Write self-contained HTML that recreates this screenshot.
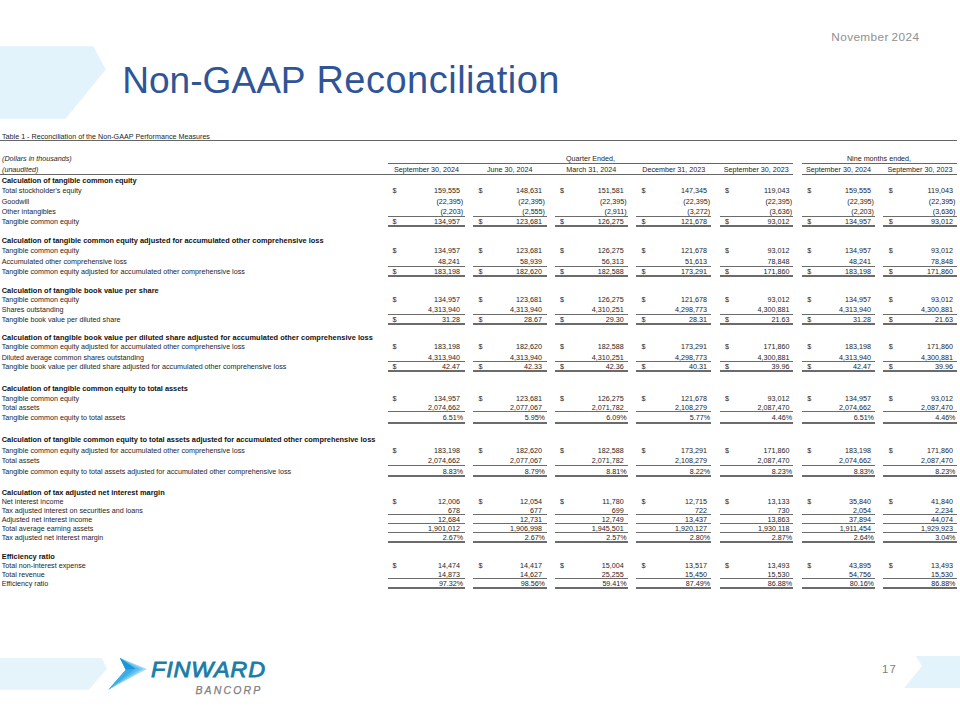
<!DOCTYPE html>
<html lang="en"><head><meta charset="utf-8"><title>Non-GAAP Reconciliation</title>
<style>
html,body{margin:0;padding:0;background:#fff;}
body{width:960px;height:720px;position:relative;overflow:hidden;font-family:"Liberation Sans",sans-serif;}
.t{position:absolute;white-space:nowrap;font-size:7.18px;line-height:10px;height:10px;color:#1e1e1e;}
.b{font-weight:bold;font-size:7.41px;color:#111;}
.i{font-style:italic;}
.c{transform:translateX(-50%);}
.ln{position:absolute;}
#title{position:absolute;left:0;top:0;width:960px;height:0;margin:0;font-weight:normal;color:#2f5597;white-space:nowrap;}
#title span{position:absolute;line-height:44px;}
#t1{left:122.2px;top:58px;font-size:37.1px;}
#t2{left:316.4px;top:58px;font-size:38px;letter-spacing:0.5px;}
#date{position:absolute;left:831.3px;top:29px;font-size:11.8px;line-height:16px;color:#8f8f8f;white-space:nowrap;letter-spacing:0.38px;word-spacing:-0.8px;}
#pg{position:absolute;left:882px;top:661px;font-size:11.3px;line-height:16px;color:#7c7c7c;white-space:nowrap;letter-spacing:1.2px;}
#fin{position:absolute;left:150.6px;top:657.3px;font-size:21.8px;line-height:26px;font-style:italic;color:#1a7ca8;-webkit-text-stroke:0.8px #1a7ca8;white-space:nowrap;letter-spacing:0.8px;transform-origin:0 50%;transform:scaleX(1.075);}
#banc{position:absolute;left:195.4px;top:682.6px;font-size:10.5px;line-height:14px;font-style:italic;color:#7e7e7e;-webkit-text-stroke:0.25px #7e7e7e;white-space:nowrap;letter-spacing:2.15px;}
svg{position:absolute;left:0;top:0;}
</style></head><body>

<svg width="960" height="720" viewBox="0 0 960 720">
<polygon points="0,46.2 93.3,46.2 105.8,69.5 65.5,118.8 0,118.8" fill="#e2f3fc"/>
<polygon points="0,657.9 101.6,657.9 107,668.7 88.7,689.7 0,689.7" fill="#e5f4fb"/>
<polygon points="915.9,656 960,656 960,688 904.2,688 922,666.1" fill="#e3f3fb"/>
<polygon points="120,658.1 146.9,669.1 108.4,689.7 125.8,669.7" fill="#a4dbf6"/>
<polygon points="120,658.1 143.5,669 108.4,689.7 125.8,669.7" fill="#7ccbf2"/>
<polygon points="120,658.1 140,668.9 108.4,689.7 125.8,669.7" fill="#5bbcee"/>
<polygon points="120,658.1 135.5,668.8 108.4,689.7 125.8,669.7" fill="#3dade7"/>
<polygon points="120,658.1 135.5,668.8 125.8,669.7" fill="#1b97d6"/>
</svg>

<h1 id="title"><span id="t1">Non-GAAP </span><span id="t2">Reconciliation</span></h1>
<div id="date">November 2024</div>
<div id="pg">17</div>
<div id="fin">FINWARD</div>
<div id="banc">BANCORP</div>
<div class="t " style="left:2.00px;top:131.75px;">Table 1 - Reconciliation of the Non-GAAP Performance Measures</div>
<div class="ln" style="left:0.00px;width:957.00px;top:140.20px;height:1.1px;background:#666"></div>
<div class="t i" style="left:2.00px;top:153.75px;">(Dollars in thousands)</div>
<div class="t i" style="left:2.00px;top:165.00px;">(unaudited)</div>
<div class="t c" style="left:590.50px;top:153.50px;">Quarter Ended,</div>
<div class="t c" style="left:879.00px;top:153.50px;">Nine months ended,</div>
<div class="ln" style="left:388.00px;width:405.00px;top:162.65px;height:1.1px;background:#666"></div>
<div class="ln" style="left:801.75px;width:154.75px;top:162.65px;height:1.1px;background:#666"></div>
<div class="ln" style="left:0.00px;width:793.00px;top:173.95px;height:1.1px;background:#666"></div>
<div class="ln" style="left:801.75px;width:154.75px;top:173.95px;height:1.1px;background:#666"></div>
<div class="t c" style="left:426.50px;top:164.50px;">September 30, 2024</div>
<div class="t c" style="left:509.75px;top:164.50px;">June 30, 2024</div>
<div class="t c" style="left:591.25px;top:164.50px;">March 31, 2024</div>
<div class="t c" style="left:673.75px;top:164.50px;">December 31, 2023</div>
<div class="t c" style="left:756.25px;top:164.50px;">September 30, 2023</div>
<div class="t c" style="left:838.38px;top:164.50px;">September 30, 2024</div>
<div class="t c" style="left:919.88px;top:164.50px;">September 30, 2023</div>
<div class="t b" style="left:1.70px;top:175.50px;letter-spacing:-0.0338px;">Calculation of tangible common equity</div>
<div class="t " style="left:1.70px;top:186.25px;">Total stockholder's equity</div>
<div class="t " style="left:392.60px;top:186.25px;">$</div>
<div class="t " style="right:500.00px;top:186.25px;">159,555</div>
<div class="t " style="left:478.60px;top:186.25px;">$</div>
<div class="t " style="right:418.10px;top:186.25px;">148,631</div>
<div class="t " style="left:559.90px;top:186.25px;">$</div>
<div class="t " style="right:336.30px;top:186.25px;">151,581</div>
<div class="t " style="left:641.45px;top:186.25px;">$</div>
<div class="t " style="right:253.05px;top:186.25px;">147,345</div>
<div class="t " style="left:725.10px;top:186.25px;">$</div>
<div class="t " style="right:170.60px;top:186.25px;">119,043</div>
<div class="t " style="left:807.15px;top:186.25px;">$</div>
<div class="t " style="right:89.00px;top:186.25px;">159,555</div>
<div class="t " style="left:888.65px;top:186.25px;">$</div>
<div class="t " style="right:7.10px;top:186.25px;">119,043</div>
<div class="t " style="left:1.70px;top:196.75px;">Goodwill</div>
<div class="t " style="right:496.80px;top:196.75px;">(22,395)</div>
<div class="t " style="right:415.00px;top:196.75px;">(22,395)</div>
<div class="t " style="right:333.30px;top:196.75px;">(22,395)</div>
<div class="t " style="right:249.95px;top:196.75px;">(22,395)</div>
<div class="t " style="right:167.90px;top:196.75px;">(22,395)</div>
<div class="t " style="right:86.00px;top:196.75px;">(22,395)</div>
<div class="t " style="right:4.50px;top:196.75px;">(22,395)</div>
<div class="t " style="left:1.70px;top:207.25px;">Other intangibles</div>
<div class="t " style="right:496.80px;top:207.25px;">(2,203)</div>
<div class="t " style="right:415.00px;top:207.25px;">(2,555)</div>
<div class="t " style="right:333.30px;top:207.25px;">(2,911)</div>
<div class="t " style="right:249.95px;top:207.25px;">(3,272)</div>
<div class="t " style="right:167.90px;top:207.25px;">(3,636)</div>
<div class="t " style="right:86.00px;top:207.25px;">(2,203)</div>
<div class="t " style="right:4.50px;top:207.25px;">(3,636)</div>
<div class="t " style="left:1.70px;top:217.30px;">Tangible common equity</div>
<div class="t " style="left:392.60px;top:217.30px;">$</div>
<div class="t " style="right:500.00px;top:217.30px;">134,957</div>
<div class="ln" style="left:388.00px;width:77.00px;top:216.00px;height:1.0px;background:#6c6c6c"></div>
<div class="ln" style="left:388.00px;width:77.00px;top:225px;height:2px;background:#6b6b6b"></div>
<div class="t " style="left:478.60px;top:217.30px;">$</div>
<div class="t " style="right:418.10px;top:217.30px;">123,681</div>
<div class="ln" style="left:473.00px;width:73.50px;top:216.00px;height:1.0px;background:#6c6c6c"></div>
<div class="ln" style="left:473.00px;width:73.50px;top:225px;height:2px;background:#6b6b6b"></div>
<div class="t " style="left:559.90px;top:217.30px;">$</div>
<div class="t " style="right:336.30px;top:217.30px;">126,275</div>
<div class="ln" style="left:554.50px;width:73.50px;top:216.00px;height:1.0px;background:#6c6c6c"></div>
<div class="ln" style="left:554.50px;width:73.50px;top:225px;height:2px;background:#6b6b6b"></div>
<div class="t " style="left:641.45px;top:217.30px;">$</div>
<div class="t " style="right:253.05px;top:217.30px;">121,678</div>
<div class="ln" style="left:636.25px;width:75.00px;top:216.00px;height:1.0px;background:#6c6c6c"></div>
<div class="ln" style="left:636.25px;width:75.00px;top:225px;height:2px;background:#6b6b6b"></div>
<div class="t " style="left:725.10px;top:217.30px;">$</div>
<div class="t " style="right:170.60px;top:217.30px;">93,012</div>
<div class="ln" style="left:719.50px;width:73.50px;top:216.00px;height:1.0px;background:#6c6c6c"></div>
<div class="ln" style="left:719.50px;width:73.50px;top:225px;height:2px;background:#6b6b6b"></div>
<div class="t " style="left:807.15px;top:217.30px;">$</div>
<div class="t " style="right:89.00px;top:217.30px;">134,957</div>
<div class="ln" style="left:801.75px;width:73.25px;top:216.00px;height:1.0px;background:#6c6c6c"></div>
<div class="ln" style="left:801.75px;width:73.25px;top:225px;height:2px;background:#6b6b6b"></div>
<div class="t " style="left:888.65px;top:217.30px;">$</div>
<div class="t " style="right:7.10px;top:217.30px;">93,012</div>
<div class="ln" style="left:883.25px;width:73.25px;top:216.00px;height:1.0px;background:#6c6c6c"></div>
<div class="ln" style="left:883.25px;width:73.25px;top:225px;height:2px;background:#6b6b6b"></div>
<div class="t b" style="left:1.70px;top:236.25px;">Calculation of tangible common equity adjusted for accumulated other comprehensive loss</div>
<div class="t " style="left:1.70px;top:246.25px;">Tangible common equity</div>
<div class="t " style="left:392.60px;top:246.25px;">$</div>
<div class="t " style="right:500.00px;top:246.25px;">134,957</div>
<div class="t " style="left:478.60px;top:246.25px;">$</div>
<div class="t " style="right:418.10px;top:246.25px;">123,681</div>
<div class="t " style="left:559.90px;top:246.25px;">$</div>
<div class="t " style="right:336.30px;top:246.25px;">126,275</div>
<div class="t " style="left:641.45px;top:246.25px;">$</div>
<div class="t " style="right:253.05px;top:246.25px;">121,678</div>
<div class="t " style="left:725.10px;top:246.25px;">$</div>
<div class="t " style="right:170.60px;top:246.25px;">93,012</div>
<div class="t " style="left:807.15px;top:246.25px;">$</div>
<div class="t " style="right:89.00px;top:246.25px;">134,957</div>
<div class="t " style="left:888.65px;top:246.25px;">$</div>
<div class="t " style="right:7.10px;top:246.25px;">93,012</div>
<div class="t " style="left:1.70px;top:256.75px;">Accumulated other comprehensive loss</div>
<div class="t " style="right:500.00px;top:256.75px;">48,241</div>
<div class="t " style="right:418.10px;top:256.75px;">58,939</div>
<div class="t " style="right:336.30px;top:256.75px;">56,313</div>
<div class="t " style="right:253.05px;top:256.75px;">51,613</div>
<div class="t " style="right:170.60px;top:256.75px;">78,848</div>
<div class="t " style="right:89.00px;top:256.75px;">48,241</div>
<div class="t " style="right:7.10px;top:256.75px;">78,848</div>
<div class="t " style="left:1.70px;top:266.75px;">Tangible common equity adjusted for accumulated other comprehensive loss</div>
<div class="t " style="left:392.60px;top:266.75px;">$</div>
<div class="t " style="right:500.00px;top:266.75px;">183,198</div>
<div class="ln" style="left:388.00px;width:77.00px;top:265.50px;height:1.0px;background:#6c6c6c"></div>
<div class="ln" style="left:388.00px;width:77.00px;top:275px;height:2px;background:#6b6b6b"></div>
<div class="t " style="left:478.60px;top:266.75px;">$</div>
<div class="t " style="right:418.10px;top:266.75px;">182,620</div>
<div class="ln" style="left:473.00px;width:73.50px;top:265.50px;height:1.0px;background:#6c6c6c"></div>
<div class="ln" style="left:473.00px;width:73.50px;top:275px;height:2px;background:#6b6b6b"></div>
<div class="t " style="left:559.90px;top:266.75px;">$</div>
<div class="t " style="right:336.30px;top:266.75px;">182,588</div>
<div class="ln" style="left:554.50px;width:73.50px;top:265.50px;height:1.0px;background:#6c6c6c"></div>
<div class="ln" style="left:554.50px;width:73.50px;top:275px;height:2px;background:#6b6b6b"></div>
<div class="t " style="left:641.45px;top:266.75px;">$</div>
<div class="t " style="right:253.05px;top:266.75px;">173,291</div>
<div class="ln" style="left:636.25px;width:75.00px;top:265.50px;height:1.0px;background:#6c6c6c"></div>
<div class="ln" style="left:636.25px;width:75.00px;top:275px;height:2px;background:#6b6b6b"></div>
<div class="t " style="left:725.10px;top:266.75px;">$</div>
<div class="t " style="right:170.60px;top:266.75px;">171,860</div>
<div class="ln" style="left:719.50px;width:73.50px;top:265.50px;height:1.0px;background:#6c6c6c"></div>
<div class="ln" style="left:719.50px;width:73.50px;top:275px;height:2px;background:#6b6b6b"></div>
<div class="t " style="left:807.15px;top:266.75px;">$</div>
<div class="t " style="right:89.00px;top:266.75px;">183,198</div>
<div class="ln" style="left:801.75px;width:73.25px;top:265.50px;height:1.0px;background:#6c6c6c"></div>
<div class="ln" style="left:801.75px;width:73.25px;top:275px;height:2px;background:#6b6b6b"></div>
<div class="t " style="left:888.65px;top:266.75px;">$</div>
<div class="t " style="right:7.10px;top:266.75px;">171,860</div>
<div class="ln" style="left:883.25px;width:73.25px;top:265.50px;height:1.0px;background:#6c6c6c"></div>
<div class="ln" style="left:883.25px;width:73.25px;top:275px;height:2px;background:#6b6b6b"></div>
<div class="t b" style="left:1.70px;top:285.50px;letter-spacing:0.0341px;">Calculation of tangible book value per share</div>
<div class="t " style="left:1.70px;top:294.60px;">Tangible common equity</div>
<div class="t " style="left:392.60px;top:294.60px;">$</div>
<div class="t " style="right:500.00px;top:294.60px;">134,957</div>
<div class="t " style="left:478.60px;top:294.60px;">$</div>
<div class="t " style="right:418.10px;top:294.60px;">123,681</div>
<div class="t " style="left:559.90px;top:294.60px;">$</div>
<div class="t " style="right:336.30px;top:294.60px;">126,275</div>
<div class="t " style="left:641.45px;top:294.60px;">$</div>
<div class="t " style="right:253.05px;top:294.60px;">121,678</div>
<div class="t " style="left:725.10px;top:294.60px;">$</div>
<div class="t " style="right:170.60px;top:294.60px;">93,012</div>
<div class="t " style="left:807.15px;top:294.60px;">$</div>
<div class="t " style="right:89.00px;top:294.60px;">134,957</div>
<div class="t " style="left:888.65px;top:294.60px;">$</div>
<div class="t " style="right:7.10px;top:294.60px;">93,012</div>
<div class="t " style="left:1.70px;top:304.70px;">Shares outstanding</div>
<div class="t " style="right:500.00px;top:304.70px;">4,313,940</div>
<div class="t " style="right:418.10px;top:304.70px;">4,313,940</div>
<div class="t " style="right:336.30px;top:304.70px;">4,310,251</div>
<div class="t " style="right:253.05px;top:304.70px;">4,298,773</div>
<div class="t " style="right:170.60px;top:304.70px;">4,300,881</div>
<div class="t " style="right:89.00px;top:304.70px;">4,313,940</div>
<div class="t " style="right:7.10px;top:304.70px;">4,300,881</div>
<div class="t " style="left:1.70px;top:314.80px;">Tangible book value per diluted share</div>
<div class="t " style="left:392.60px;top:314.80px;">$</div>
<div class="t " style="right:500.00px;top:314.80px;">31.28</div>
<div class="ln" style="left:388.00px;width:77.00px;top:313.50px;height:1.0px;background:#6c6c6c"></div>
<div class="ln" style="left:388.00px;width:77.00px;top:323px;height:2px;background:#6b6b6b"></div>
<div class="t " style="left:478.60px;top:314.80px;">$</div>
<div class="t " style="right:418.10px;top:314.80px;">28.67</div>
<div class="ln" style="left:473.00px;width:73.50px;top:313.50px;height:1.0px;background:#6c6c6c"></div>
<div class="ln" style="left:473.00px;width:73.50px;top:323px;height:2px;background:#6b6b6b"></div>
<div class="t " style="left:559.90px;top:314.80px;">$</div>
<div class="t " style="right:336.30px;top:314.80px;">29.30</div>
<div class="ln" style="left:554.50px;width:73.50px;top:313.50px;height:1.0px;background:#6c6c6c"></div>
<div class="ln" style="left:554.50px;width:73.50px;top:323px;height:2px;background:#6b6b6b"></div>
<div class="t " style="left:641.45px;top:314.80px;">$</div>
<div class="t " style="right:253.05px;top:314.80px;">28.31</div>
<div class="ln" style="left:636.25px;width:75.00px;top:313.50px;height:1.0px;background:#6c6c6c"></div>
<div class="ln" style="left:636.25px;width:75.00px;top:323px;height:2px;background:#6b6b6b"></div>
<div class="t " style="left:725.10px;top:314.80px;">$</div>
<div class="t " style="right:170.60px;top:314.80px;">21.63</div>
<div class="ln" style="left:719.50px;width:73.50px;top:313.50px;height:1.0px;background:#6c6c6c"></div>
<div class="ln" style="left:719.50px;width:73.50px;top:323px;height:2px;background:#6b6b6b"></div>
<div class="t " style="left:807.15px;top:314.80px;">$</div>
<div class="t " style="right:89.00px;top:314.80px;">31.28</div>
<div class="ln" style="left:801.75px;width:73.25px;top:313.50px;height:1.0px;background:#6c6c6c"></div>
<div class="ln" style="left:801.75px;width:73.25px;top:323px;height:2px;background:#6b6b6b"></div>
<div class="t " style="left:888.65px;top:314.80px;">$</div>
<div class="t " style="right:7.10px;top:314.80px;">21.63</div>
<div class="ln" style="left:883.25px;width:73.25px;top:313.50px;height:1.0px;background:#6c6c6c"></div>
<div class="ln" style="left:883.25px;width:73.25px;top:323px;height:2px;background:#6b6b6b"></div>
<div class="t b" style="left:1.70px;top:333.25px;letter-spacing:0.0363px;">Calculation of tangible book value per diluted share adjusted for accumulated other comprehensive loss</div>
<div class="t " style="left:1.70px;top:342.20px;">Tangible common equity adjusted for accumulated other comprehensive loss</div>
<div class="t " style="left:392.60px;top:342.20px;">$</div>
<div class="t " style="right:500.00px;top:342.20px;">183,198</div>
<div class="t " style="left:478.60px;top:342.20px;">$</div>
<div class="t " style="right:418.10px;top:342.20px;">182,620</div>
<div class="t " style="left:559.90px;top:342.20px;">$</div>
<div class="t " style="right:336.30px;top:342.20px;">182,588</div>
<div class="t " style="left:641.45px;top:342.20px;">$</div>
<div class="t " style="right:253.05px;top:342.20px;">173,291</div>
<div class="t " style="left:725.10px;top:342.20px;">$</div>
<div class="t " style="right:170.60px;top:342.20px;">171,860</div>
<div class="t " style="left:807.15px;top:342.20px;">$</div>
<div class="t " style="right:89.00px;top:342.20px;">183,198</div>
<div class="t " style="left:888.65px;top:342.20px;">$</div>
<div class="t " style="right:7.10px;top:342.20px;">171,860</div>
<div class="t " style="left:1.70px;top:352.80px;">Diluted average common shares outstanding</div>
<div class="t " style="right:500.00px;top:352.80px;">4,313,940</div>
<div class="t " style="right:418.10px;top:352.80px;">4,313,940</div>
<div class="t " style="right:336.30px;top:352.80px;">4,310,251</div>
<div class="t " style="right:253.05px;top:352.80px;">4,298,773</div>
<div class="t " style="right:170.60px;top:352.80px;">4,300,881</div>
<div class="t " style="right:89.00px;top:352.80px;">4,313,940</div>
<div class="t " style="right:7.10px;top:352.80px;">4,300,881</div>
<div class="t " style="left:1.70px;top:362.30px;">Tangible book value per diluted share adjusted for accumulated other comprehensive loss</div>
<div class="t " style="left:392.60px;top:362.30px;">$</div>
<div class="t " style="right:500.00px;top:362.30px;">42.47</div>
<div class="ln" style="left:388.00px;width:77.00px;top:361.40px;height:1.0px;background:#6c6c6c"></div>
<div class="ln" style="left:388.00px;width:77.00px;top:370px;height:2px;background:#6b6b6b"></div>
<div class="t " style="left:478.60px;top:362.30px;">$</div>
<div class="t " style="right:418.10px;top:362.30px;">42.33</div>
<div class="ln" style="left:473.00px;width:73.50px;top:361.40px;height:1.0px;background:#6c6c6c"></div>
<div class="ln" style="left:473.00px;width:73.50px;top:370px;height:2px;background:#6b6b6b"></div>
<div class="t " style="left:559.90px;top:362.30px;">$</div>
<div class="t " style="right:336.30px;top:362.30px;">42.36</div>
<div class="ln" style="left:554.50px;width:73.50px;top:361.40px;height:1.0px;background:#6c6c6c"></div>
<div class="ln" style="left:554.50px;width:73.50px;top:370px;height:2px;background:#6b6b6b"></div>
<div class="t " style="left:641.45px;top:362.30px;">$</div>
<div class="t " style="right:253.05px;top:362.30px;">40.31</div>
<div class="ln" style="left:636.25px;width:75.00px;top:361.40px;height:1.0px;background:#6c6c6c"></div>
<div class="ln" style="left:636.25px;width:75.00px;top:370px;height:2px;background:#6b6b6b"></div>
<div class="t " style="left:725.10px;top:362.30px;">$</div>
<div class="t " style="right:170.60px;top:362.30px;">39.96</div>
<div class="ln" style="left:719.50px;width:73.50px;top:361.40px;height:1.0px;background:#6c6c6c"></div>
<div class="ln" style="left:719.50px;width:73.50px;top:370px;height:2px;background:#6b6b6b"></div>
<div class="t " style="left:807.15px;top:362.30px;">$</div>
<div class="t " style="right:89.00px;top:362.30px;">42.47</div>
<div class="ln" style="left:801.75px;width:73.25px;top:361.40px;height:1.0px;background:#6c6c6c"></div>
<div class="ln" style="left:801.75px;width:73.25px;top:370px;height:2px;background:#6b6b6b"></div>
<div class="t " style="left:888.65px;top:362.30px;">$</div>
<div class="t " style="right:7.10px;top:362.30px;">39.96</div>
<div class="ln" style="left:883.25px;width:73.25px;top:361.40px;height:1.0px;background:#6c6c6c"></div>
<div class="ln" style="left:883.25px;width:73.25px;top:370px;height:2px;background:#6b6b6b"></div>
<div class="t b" style="left:1.70px;top:383.75px;letter-spacing:-0.0377px;">Calculation of tangible common equity to total assets</div>
<div class="t " style="left:1.70px;top:393.60px;">Tangible common equity</div>
<div class="t " style="left:392.60px;top:393.60px;">$</div>
<div class="t " style="right:500.00px;top:393.60px;">134,957</div>
<div class="t " style="left:478.60px;top:393.60px;">$</div>
<div class="t " style="right:418.10px;top:393.60px;">123,681</div>
<div class="t " style="left:559.90px;top:393.60px;">$</div>
<div class="t " style="right:336.30px;top:393.60px;">126,275</div>
<div class="t " style="left:641.45px;top:393.60px;">$</div>
<div class="t " style="right:253.05px;top:393.60px;">121,678</div>
<div class="t " style="left:725.10px;top:393.60px;">$</div>
<div class="t " style="right:170.60px;top:393.60px;">93,012</div>
<div class="t " style="left:807.15px;top:393.60px;">$</div>
<div class="t " style="right:89.00px;top:393.60px;">134,957</div>
<div class="t " style="left:888.65px;top:393.60px;">$</div>
<div class="t " style="right:7.10px;top:393.60px;">93,012</div>
<div class="t " style="left:1.70px;top:402.70px;">Total assets</div>
<div class="t " style="right:500.00px;top:402.70px;">2,074,662</div>
<div class="t " style="right:418.10px;top:402.70px;">2,077,067</div>
<div class="t " style="right:336.30px;top:402.70px;">2,071,782</div>
<div class="t " style="right:253.05px;top:402.70px;">2,108,279</div>
<div class="t " style="right:170.60px;top:402.70px;">2,087,470</div>
<div class="t " style="right:89.00px;top:402.70px;">2,074,662</div>
<div class="t " style="right:7.10px;top:402.70px;">2,087,470</div>
<div class="t " style="left:1.70px;top:412.80px;">Tangible common equity to total assets</div>
<div class="t " style="right:496.80px;top:412.80px;">6.51%</div>
<div class="ln" style="left:388.00px;width:77.00px;top:411.00px;height:1.0px;background:#6c6c6c"></div>
<div class="ln" style="left:388.00px;width:77.00px;top:422px;height:2px;background:#6b6b6b"></div>
<div class="t " style="right:415.00px;top:412.80px;">5.95%</div>
<div class="ln" style="left:473.00px;width:73.50px;top:411.00px;height:1.0px;background:#6c6c6c"></div>
<div class="ln" style="left:473.00px;width:73.50px;top:422px;height:2px;background:#6b6b6b"></div>
<div class="t " style="right:333.30px;top:412.80px;">6.09%</div>
<div class="ln" style="left:554.50px;width:73.50px;top:411.00px;height:1.0px;background:#6c6c6c"></div>
<div class="ln" style="left:554.50px;width:73.50px;top:422px;height:2px;background:#6b6b6b"></div>
<div class="t " style="right:249.95px;top:412.80px;">5.77%</div>
<div class="ln" style="left:636.25px;width:75.00px;top:411.00px;height:1.0px;background:#6c6c6c"></div>
<div class="ln" style="left:636.25px;width:75.00px;top:422px;height:2px;background:#6b6b6b"></div>
<div class="t " style="right:167.90px;top:412.80px;">4.46%</div>
<div class="ln" style="left:719.50px;width:73.50px;top:411.00px;height:1.0px;background:#6c6c6c"></div>
<div class="ln" style="left:719.50px;width:73.50px;top:422px;height:2px;background:#6b6b6b"></div>
<div class="t " style="right:86.00px;top:412.80px;">6.51%</div>
<div class="ln" style="left:801.75px;width:73.25px;top:411.00px;height:1.0px;background:#6c6c6c"></div>
<div class="ln" style="left:801.75px;width:73.25px;top:422px;height:2px;background:#6b6b6b"></div>
<div class="t " style="right:4.50px;top:412.80px;">4.46%</div>
<div class="ln" style="left:883.25px;width:73.25px;top:411.00px;height:1.0px;background:#6c6c6c"></div>
<div class="ln" style="left:883.25px;width:73.25px;top:422px;height:2px;background:#6b6b6b"></div>
<div class="t b" style="left:1.70px;top:435.25px;letter-spacing:0.0000px;">Calculation of tangible common equity to total assets adjusted for accumulated other comprehensive loss</div>
<div class="t " style="left:1.70px;top:445.60px;">Tangible common equity adjusted for accumulated other comprehensive loss</div>
<div class="t " style="left:392.60px;top:445.60px;">$</div>
<div class="t " style="right:500.00px;top:445.60px;">183,198</div>
<div class="t " style="left:478.60px;top:445.60px;">$</div>
<div class="t " style="right:418.10px;top:445.60px;">182,620</div>
<div class="t " style="left:559.90px;top:445.60px;">$</div>
<div class="t " style="right:336.30px;top:445.60px;">182,588</div>
<div class="t " style="left:641.45px;top:445.60px;">$</div>
<div class="t " style="right:253.05px;top:445.60px;">173,291</div>
<div class="t " style="left:725.10px;top:445.60px;">$</div>
<div class="t " style="right:170.60px;top:445.60px;">171,860</div>
<div class="t " style="left:807.15px;top:445.60px;">$</div>
<div class="t " style="right:89.00px;top:445.60px;">183,198</div>
<div class="t " style="left:888.65px;top:445.60px;">$</div>
<div class="t " style="right:7.10px;top:445.60px;">171,860</div>
<div class="t " style="left:1.70px;top:456.20px;">Total assets</div>
<div class="t " style="right:500.00px;top:456.20px;">2,074,662</div>
<div class="t " style="right:418.10px;top:456.20px;">2,077,067</div>
<div class="t " style="right:336.30px;top:456.20px;">2,071,782</div>
<div class="t " style="right:253.05px;top:456.20px;">2,108,279</div>
<div class="t " style="right:170.60px;top:456.20px;">2,087,470</div>
<div class="t " style="right:89.00px;top:456.20px;">2,074,662</div>
<div class="t " style="right:7.10px;top:456.20px;">2,087,470</div>
<div class="t " style="left:1.70px;top:466.60px;">Tangible common equity to total assets adjusted for accumulated other comprehensive loss</div>
<div class="t " style="right:496.80px;top:466.60px;">8.83%</div>
<div class="ln" style="left:388.00px;width:77.00px;top:465.10px;height:1.0px;background:#6c6c6c"></div>
<div class="ln" style="left:388.00px;width:77.00px;top:475px;height:2px;background:#6b6b6b"></div>
<div class="t " style="right:415.00px;top:466.60px;">8.79%</div>
<div class="ln" style="left:473.00px;width:73.50px;top:465.10px;height:1.0px;background:#6c6c6c"></div>
<div class="ln" style="left:473.00px;width:73.50px;top:475px;height:2px;background:#6b6b6b"></div>
<div class="t " style="right:333.30px;top:466.60px;">8.81%</div>
<div class="ln" style="left:554.50px;width:73.50px;top:465.10px;height:1.0px;background:#6c6c6c"></div>
<div class="ln" style="left:554.50px;width:73.50px;top:475px;height:2px;background:#6b6b6b"></div>
<div class="t " style="right:249.95px;top:466.60px;">8.22%</div>
<div class="ln" style="left:636.25px;width:75.00px;top:465.10px;height:1.0px;background:#6c6c6c"></div>
<div class="ln" style="left:636.25px;width:75.00px;top:475px;height:2px;background:#6b6b6b"></div>
<div class="t " style="right:167.90px;top:466.60px;">8.23%</div>
<div class="ln" style="left:719.50px;width:73.50px;top:465.10px;height:1.0px;background:#6c6c6c"></div>
<div class="ln" style="left:719.50px;width:73.50px;top:475px;height:2px;background:#6b6b6b"></div>
<div class="t " style="right:86.00px;top:466.60px;">8.83%</div>
<div class="ln" style="left:801.75px;width:73.25px;top:465.10px;height:1.0px;background:#6c6c6c"></div>
<div class="ln" style="left:801.75px;width:73.25px;top:475px;height:2px;background:#6b6b6b"></div>
<div class="t " style="right:4.50px;top:466.60px;">8.23%</div>
<div class="ln" style="left:883.25px;width:73.25px;top:465.10px;height:1.0px;background:#6c6c6c"></div>
<div class="ln" style="left:883.25px;width:73.25px;top:475px;height:2px;background:#6b6b6b"></div>
<div class="t b" style="left:1.70px;top:487.75px;letter-spacing:0.0000px;">Calculation of tax adjusted net interest margin</div>
<div class="t " style="left:1.70px;top:497.20px;">Net interest income</div>
<div class="t " style="left:392.60px;top:497.20px;">$</div>
<div class="t " style="right:500.00px;top:497.20px;">12,006</div>
<div class="t " style="left:478.60px;top:497.20px;">$</div>
<div class="t " style="right:418.10px;top:497.20px;">12,054</div>
<div class="t " style="left:559.90px;top:497.20px;">$</div>
<div class="t " style="right:336.30px;top:497.20px;">11,780</div>
<div class="t " style="left:641.45px;top:497.20px;">$</div>
<div class="t " style="right:253.05px;top:497.20px;">12,715</div>
<div class="t " style="left:725.10px;top:497.20px;">$</div>
<div class="t " style="right:170.60px;top:497.20px;">13,133</div>
<div class="t " style="left:807.15px;top:497.20px;">$</div>
<div class="t " style="right:89.00px;top:497.20px;">35,840</div>
<div class="t " style="left:888.65px;top:497.20px;">$</div>
<div class="t " style="right:7.10px;top:497.20px;">41,840</div>
<div class="t " style="left:1.70px;top:506.20px;">Tax adjusted interest on securities and loans</div>
<div class="t " style="right:500.00px;top:506.20px;">678</div>
<div class="t " style="right:418.10px;top:506.20px;">677</div>
<div class="t " style="right:336.30px;top:506.20px;">699</div>
<div class="t " style="right:253.05px;top:506.20px;">722</div>
<div class="t " style="right:170.60px;top:506.20px;">730</div>
<div class="t " style="right:89.00px;top:506.20px;">2,054</div>
<div class="t " style="right:7.10px;top:506.20px;">2,234</div>
<div class="t " style="left:1.70px;top:515.30px;">Adjusted net interest income</div>
<div class="t " style="right:500.00px;top:515.30px;">12,684</div>
<div class="ln" style="left:388.00px;width:77.00px;top:514.20px;height:1.0px;background:#6c6c6c"></div>
<div class="t " style="right:418.10px;top:515.30px;">12,731</div>
<div class="ln" style="left:473.00px;width:73.50px;top:514.20px;height:1.0px;background:#6c6c6c"></div>
<div class="t " style="right:336.30px;top:515.30px;">12,749</div>
<div class="ln" style="left:554.50px;width:73.50px;top:514.20px;height:1.0px;background:#6c6c6c"></div>
<div class="t " style="right:253.05px;top:515.30px;">13,437</div>
<div class="ln" style="left:636.25px;width:75.00px;top:514.20px;height:1.0px;background:#6c6c6c"></div>
<div class="t " style="right:170.60px;top:515.30px;">13,863</div>
<div class="ln" style="left:719.50px;width:73.50px;top:514.20px;height:1.0px;background:#6c6c6c"></div>
<div class="t " style="right:89.00px;top:515.30px;">37,894</div>
<div class="ln" style="left:801.75px;width:73.25px;top:514.20px;height:1.0px;background:#6c6c6c"></div>
<div class="t " style="right:7.10px;top:515.30px;">44,074</div>
<div class="ln" style="left:883.25px;width:73.25px;top:514.20px;height:1.0px;background:#6c6c6c"></div>
<div class="t " style="left:1.70px;top:524.40px;">Total average earning assets</div>
<div class="t " style="right:500.00px;top:524.40px;">1,901,012</div>
<div class="ln" style="left:388.00px;width:77.00px;top:523.25px;height:1.0px;background:#6c6c6c"></div>
<div class="t " style="right:418.10px;top:524.40px;">1,906,998</div>
<div class="ln" style="left:473.00px;width:73.50px;top:523.25px;height:1.0px;background:#6c6c6c"></div>
<div class="t " style="right:336.30px;top:524.40px;">1,945,501</div>
<div class="ln" style="left:554.50px;width:73.50px;top:523.25px;height:1.0px;background:#6c6c6c"></div>
<div class="t " style="right:253.05px;top:524.40px;">1,920,127</div>
<div class="ln" style="left:636.25px;width:75.00px;top:523.25px;height:1.0px;background:#6c6c6c"></div>
<div class="t " style="right:170.60px;top:524.40px;">1,930,118</div>
<div class="ln" style="left:719.50px;width:73.50px;top:523.25px;height:1.0px;background:#6c6c6c"></div>
<div class="t " style="right:89.00px;top:524.40px;">1,911,454</div>
<div class="ln" style="left:801.75px;width:73.25px;top:523.25px;height:1.0px;background:#6c6c6c"></div>
<div class="t " style="right:7.10px;top:524.40px;">1,929,923</div>
<div class="ln" style="left:883.25px;width:73.25px;top:523.25px;height:1.0px;background:#6c6c6c"></div>
<div class="t " style="left:1.70px;top:533.40px;">Tax adjusted net interest margin</div>
<div class="t " style="right:496.80px;top:533.40px;">2.67%</div>
<div class="ln" style="left:388.00px;width:77.00px;top:532.30px;height:1.0px;background:#6c6c6c"></div>
<div class="ln" style="left:388.00px;width:77.00px;top:541px;height:2px;background:#6b6b6b"></div>
<div class="t " style="right:415.00px;top:533.40px;">2.67%</div>
<div class="ln" style="left:473.00px;width:73.50px;top:532.30px;height:1.0px;background:#6c6c6c"></div>
<div class="ln" style="left:473.00px;width:73.50px;top:541px;height:2px;background:#6b6b6b"></div>
<div class="t " style="right:333.30px;top:533.40px;">2.57%</div>
<div class="ln" style="left:554.50px;width:73.50px;top:532.30px;height:1.0px;background:#6c6c6c"></div>
<div class="ln" style="left:554.50px;width:73.50px;top:541px;height:2px;background:#6b6b6b"></div>
<div class="t " style="right:249.95px;top:533.40px;">2.80%</div>
<div class="ln" style="left:636.25px;width:75.00px;top:532.30px;height:1.0px;background:#6c6c6c"></div>
<div class="ln" style="left:636.25px;width:75.00px;top:541px;height:2px;background:#6b6b6b"></div>
<div class="t " style="right:167.90px;top:533.40px;">2.87%</div>
<div class="ln" style="left:719.50px;width:73.50px;top:532.30px;height:1.0px;background:#6c6c6c"></div>
<div class="ln" style="left:719.50px;width:73.50px;top:541px;height:2px;background:#6b6b6b"></div>
<div class="t " style="right:86.00px;top:533.40px;">2.64%</div>
<div class="ln" style="left:801.75px;width:73.25px;top:532.30px;height:1.0px;background:#6c6c6c"></div>
<div class="ln" style="left:801.75px;width:73.25px;top:541px;height:2px;background:#6b6b6b"></div>
<div class="t " style="right:4.50px;top:533.40px;">3.04%</div>
<div class="ln" style="left:883.25px;width:73.25px;top:532.30px;height:1.0px;background:#6c6c6c"></div>
<div class="ln" style="left:883.25px;width:73.25px;top:541px;height:2px;background:#6b6b6b"></div>
<div class="t b" style="left:1.70px;top:551.75px;">Efficiency ratio</div>
<div class="t " style="left:1.70px;top:560.80px;">Total non-interest expense</div>
<div class="t " style="left:392.60px;top:560.80px;">$</div>
<div class="t " style="right:500.00px;top:560.80px;">14,474</div>
<div class="t " style="left:478.60px;top:560.80px;">$</div>
<div class="t " style="right:418.10px;top:560.80px;">14,417</div>
<div class="t " style="left:559.90px;top:560.80px;">$</div>
<div class="t " style="right:336.30px;top:560.80px;">15,004</div>
<div class="t " style="left:641.45px;top:560.80px;">$</div>
<div class="t " style="right:253.05px;top:560.80px;">13,517</div>
<div class="t " style="left:725.10px;top:560.80px;">$</div>
<div class="t " style="right:170.60px;top:560.80px;">13,493</div>
<div class="t " style="left:807.15px;top:560.80px;">$</div>
<div class="t " style="right:89.00px;top:560.80px;">43,895</div>
<div class="t " style="left:888.65px;top:560.80px;">$</div>
<div class="t " style="right:7.10px;top:560.80px;">13,493</div>
<div class="t " style="left:1.70px;top:569.85px;">Total revenue</div>
<div class="t " style="right:500.00px;top:569.85px;">14,873</div>
<div class="t " style="right:418.10px;top:569.85px;">14,627</div>
<div class="t " style="right:336.30px;top:569.85px;">25,255</div>
<div class="t " style="right:253.05px;top:569.85px;">15,450</div>
<div class="t " style="right:170.60px;top:569.85px;">15,530</div>
<div class="t " style="right:89.00px;top:569.85px;">54,756</div>
<div class="t " style="right:7.10px;top:569.85px;">15,530</div>
<div class="t " style="left:1.70px;top:578.70px;">Efficiency ratio</div>
<div class="t " style="right:496.80px;top:578.70px;">97.32%</div>
<div class="ln" style="left:388.00px;width:77.00px;top:578.25px;height:1.0px;background:#6c6c6c"></div>
<div class="ln" style="left:388.00px;width:77.00px;top:587px;height:2px;background:#6b6b6b"></div>
<div class="t " style="right:415.00px;top:578.70px;">98.56%</div>
<div class="ln" style="left:473.00px;width:73.50px;top:578.25px;height:1.0px;background:#6c6c6c"></div>
<div class="ln" style="left:473.00px;width:73.50px;top:587px;height:2px;background:#6b6b6b"></div>
<div class="t " style="right:333.30px;top:578.70px;">59.41%</div>
<div class="ln" style="left:554.50px;width:73.50px;top:578.25px;height:1.0px;background:#6c6c6c"></div>
<div class="ln" style="left:554.50px;width:73.50px;top:587px;height:2px;background:#6b6b6b"></div>
<div class="t " style="right:249.95px;top:578.70px;">87.49%</div>
<div class="ln" style="left:636.25px;width:75.00px;top:578.25px;height:1.0px;background:#6c6c6c"></div>
<div class="ln" style="left:636.25px;width:75.00px;top:587px;height:2px;background:#6b6b6b"></div>
<div class="t " style="right:167.90px;top:578.70px;">86.88%</div>
<div class="ln" style="left:719.50px;width:73.50px;top:578.25px;height:1.0px;background:#6c6c6c"></div>
<div class="ln" style="left:719.50px;width:73.50px;top:587px;height:2px;background:#6b6b6b"></div>
<div class="t " style="right:86.00px;top:578.70px;">80.16%</div>
<div class="ln" style="left:801.75px;width:73.25px;top:578.25px;height:1.0px;background:#6c6c6c"></div>
<div class="ln" style="left:801.75px;width:73.25px;top:587px;height:2px;background:#6b6b6b"></div>
<div class="t " style="right:4.50px;top:578.70px;">86.88%</div>
<div class="ln" style="left:883.25px;width:73.25px;top:578.25px;height:1.0px;background:#6c6c6c"></div>
<div class="ln" style="left:883.25px;width:73.25px;top:587px;height:2px;background:#6b6b6b"></div>
</body></html>
